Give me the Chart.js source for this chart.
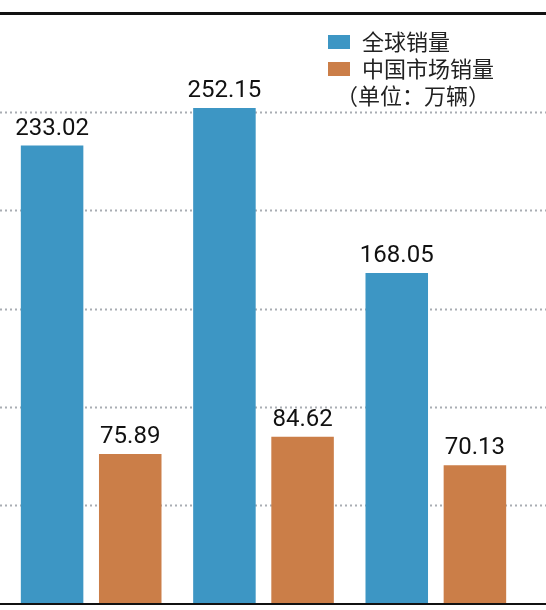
<!DOCTYPE html>
<html><head><meta charset="utf-8">
<script src="https://cdn.jsdelivr.net/npm/chart.js@4"></script>
<style>body{margin:0;background:#fff}#wrap{width:546px;height:610px}</style>
</head><body><div id="wrap"><canvas id="c"></canvas></div>
<script>
const categories = ['A', 'B', 'C'];
const globalSales = [233.02, 252.15, 168.05];
const chinaSales = [75.89, 84.62, 70.13];
const gridValues = [50, 100, 150, 200, 250];
const seriesNames = ['全球销量', '中国市场销量'];
const unitNote = '（单位：万辆）';
const blue = '#3d96c4', orange = '#cb7e48';
const font = '"Noto Sans CJK SC", sans-serif';

// dotted grid across the full width
const grid = {
    id: 'grid',
    beforeDatasetsDraw(chart) {
        const { ctx } = chart, y = chart.scales.y;
        ctx.save();
        ctx.strokeStyle = '#a9adb3';
        ctx.lineWidth = 2;
        ctx.setLineDash([2, 3]);
        gridValues.forEach(v => {
            const py = Math.round(y.getPixelForValue(v)) + 0.5;
            ctx.beginPath();
            ctx.moveTo(0, py);
            ctx.lineTo(546, py);
            ctx.stroke();
        });
        ctx.restore();
    }
};

// labels above bars, legend box, top rule and baseline
const extras = {
    id: 'extras',
    afterDatasetsDraw(chart) {
        const { ctx, chartArea } = chart;
        ctx.save();
        ctx.fillStyle = '#111';
        ctx.font = '24px Roboto, sans-serif';
        ctx.textAlign = 'center';
        ctx.textBaseline = 'bottom';
        chart.data.datasets.forEach((ds, i) => {
            chart.getDatasetMeta(i).data.forEach((bar, j) => {
                ctx.fillText(ds.data[j].toFixed(2), bar.x, bar.y - 5);
            });
        });
        ctx.fillRect(0, 12, 546, 3);
        ctx.fillRect(0, chartArea.bottom, 546, 2);
        ctx.textAlign = 'left';
        ctx.textBaseline = 'middle';
        ctx.font = '22px ' + font;
        [blue, orange].forEach((c, i) => {
            const y = 42 + i * 27;
            ctx.fillStyle = c;
            ctx.fillRect(328, y - 7, 22, 14);
            ctx.fillStyle = '#222';
            ctx.fillText(seriesNames[i], 362, y);
        });
        ctx.fillText(unitNote, 336, 96);
        ctx.restore();
    }
};

new Chart(document.getElementById('c'), {
    type: 'bar',
    data: {
        labels: categories,
        datasets: [
            { data: globalSales, backgroundColor: blue },
            { data: chinaSales, backgroundColor: orange }
        ]
    },
    options: {
        responsive: true,
        maintainAspectRatio: false,
        animation: false,
        layout: { padding: { left: 5, right: 24, top: 14, bottom: 7 } },
        categoryPercentage: 0.907,
        barPercentage: 0.8,
        plugins: { legend: { display: false }, tooltip: { enabled: false } },
        scales: {
            x: { display: false },
            y: {
                min: 0, max: 300,
                ticks: { display: false, stepSize: 50 },
                border: { display: false },
                grid: { display: false },
                afterFit(scale) { scale.width = 0; }
            }
        }
    },
    plugins: [grid, extras]
});
</script></body></html>
